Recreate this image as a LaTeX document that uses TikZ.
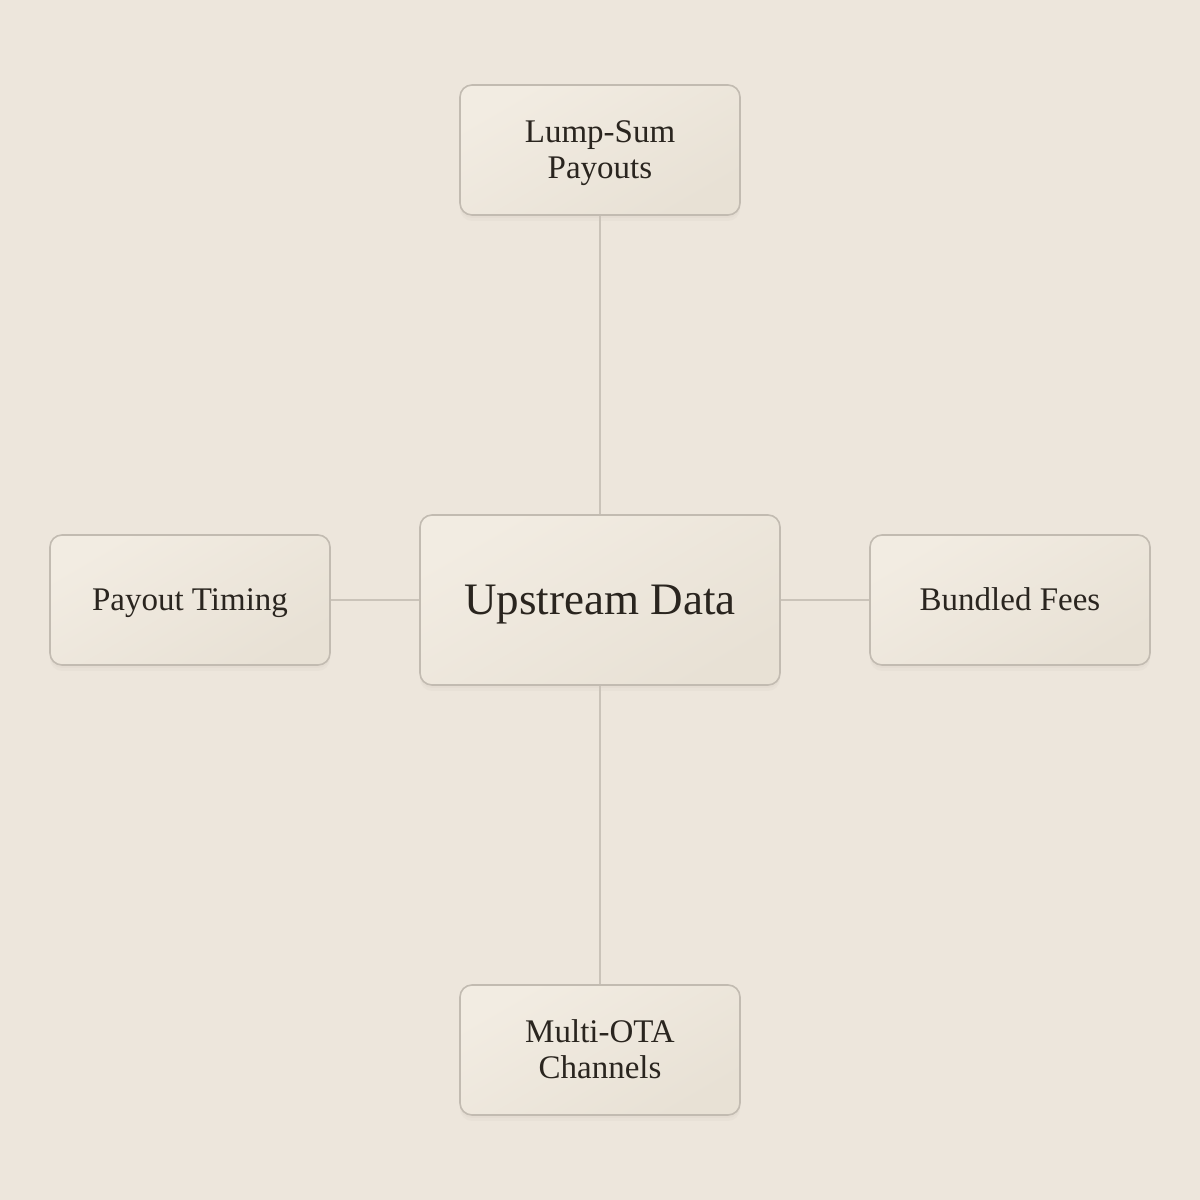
\documentclass[tikz,border=0pt]{standalone}
\usepackage{fontspec}
\setmainfont{Liberation Serif}
\definecolor{bgc}{HTML}{EDE6DC}
\definecolor{boxa}{HTML}{F2ECE2}
\definecolor{boxb}{HTML}{E8E1D5}
\definecolor{edgec}{HTML}{C2BBB1}
\definecolor{linec}{HTML}{CAC3B9}
\definecolor{txtc}{HTML}{2A251F}
\definecolor{shadc}{HTML}{A89C8A}
\newcommand{\cardtext}[2][3pt]{\raisebox{-#1}[\height][\depth]{\begin{tabular}{@{}c@{}}#2\end{tabular}}}
\tikzset{
  card/.style={rectangle, rounded corners=12pt, draw=edgec, line width=1.6pt,
    left color=boxa, right color=boxb, shading angle=30,
    preaction={fill=shadc, fill opacity=0.06, transform canvas={yshift=-6pt}},
    preaction={fill=shadc, fill opacity=0.06, transform canvas={yshift=-3pt}},
    text=txtc, align=center, inner sep=0pt, minimum width=280pt, minimum height=130pt,
    font=\fontsize{33}{36}\selectfont},
  hub/.style={card, minimum width=360pt, minimum height=170pt, font=\fontsize{45}{52}\selectfont},
  link/.style={draw=linec, line width=1.5pt}
}
\begin{document}
\begin{tikzpicture}[x=1pt,y=1pt]
\fill[bgc] (0,0) rectangle (1200,1200);
\useasboundingbox (0,0) rectangle (1200,1200);
\node[hub] (hub) at (600,600) {\cardtext[4pt]{Upstream Data}};
\node[card] (top) at (600,1050) {\cardtext{Lump-Sum\\Payouts}};
\node[card] (left) at (190,600) {\cardtext{Payout Timing}};
\node[card] (right) at (1010,600) {\cardtext{Bundled Fees}};
\node[card] (bot) at (600,150) {\cardtext{Multi-OTA\\Channels}};
\draw[link] (hub.north) -- (top.south);
\draw[link] (hub.south) -- (bot.north);
\draw[link] (hub.west) -- (left.east);
\draw[link] (hub.east) -- (right.west);
\end{tikzpicture}
\end{document}
